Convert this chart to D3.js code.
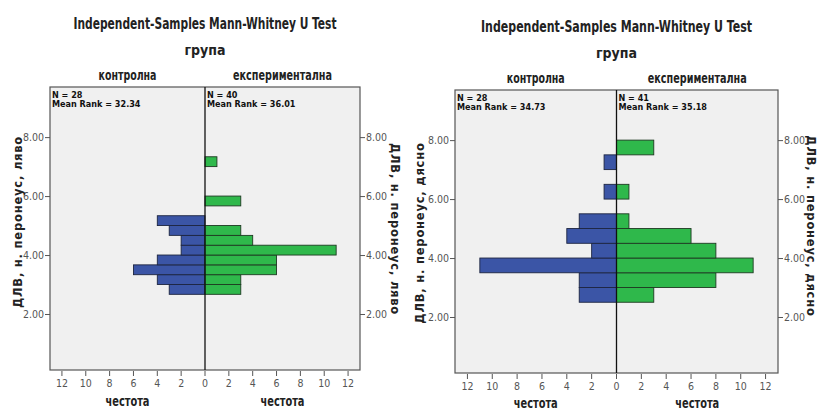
<!DOCTYPE html>
<html>
<head>
<meta charset="utf-8">
<script src="https://cdn.jsdelivr.net/npm/d3@7"></script>
<style>
  html, body { margin: 0; padding: 0; background: #fff; }
  svg { display: block; }
  .cond { font-family: "Liberation Sans Narrow", "Arial Narrow", "DejaVu Sans Condensed", "Roboto Condensed", sans-serif; }
</style>
</head>
<body>
<svg id="chart" width="818" height="410"></svg>
<script>
// ---- data ----
const groups = ["контролна", "експериментална"];
const valueTicks = [2, 4, 6, 8];
const freqTicks = [12, 10, 8, 6, 4, 2, 0, 2, 4, 6, 8, 10, 12];

// left: ДЛВ, н. перонеус, ляво (bins of 1/3)
const leftBinLower = [2.667, 3.000, 3.333, 3.667, 4.000, 4.333, 4.667, 5.000, 5.333, 5.667, 6.000, 6.333, 6.667, 7.000];
const leftBinWidth = 1 / 3;
const leftControl = [3, 4, 6, 4, 2, 2, 3, 4, 0, 0, 0, 0, 0, 0];
const leftExperimental = [3, 3, 6, 6, 11, 4, 3, 0, 0, 3, 0, 0, 0, 1];
const leftStats = ["N = 28", "Mean Rank = 32.34", "N = 40", "Mean Rank = 36.01"];

// right: ДЛВ, н. перонеус, дясно (bins of 0.5)
const rightBinLower = [2.5, 3.0, 3.5, 4.0, 4.5, 5.0, 5.5, 6.0, 6.5, 7.0, 7.5];
const rightBinWidth = 0.5;
const rightControl = [3, 3, 11, 2, 4, 3, 0, 1, 0, 1, 0];
const rightExperimental = [3, 8, 11, 8, 6, 1, 0, 1, 0, 0, 3];
const rightStats = ["N = 28", "Mean Rank = 34.73", "N = 41", "Mean Rank = 35.18"];

const svg = d3.select("#chart");
const BLUE = "#3b55a6";
const GREEN = "#2fb84b";

function panel(o) {
  const g = svg.append("g");
  const mid = (o.left + o.right) / 2;
  const y = d3.scaleLinear().domain([0.1, 9.7]).range([o.bottom, o.top]);
  const xL = d3.scaleLinear().domain([13, 0]).range([o.left, mid]);
  const xR = d3.scaleLinear().domain([0, 13]).range([mid, o.right]);

  // titles
  g.append("text").attr("x", mid).attr("y", o.top - 58).attr("text-anchor", "middle")
    .attr("class", "cond").attr("font-weight", "bold").attr("font-size", 15).attr("fill", "#222")
    .attr("textLength", o.titleLen).attr("lengthAdjust", "spacingAndGlyphs")
    .text("Independent-Samples Mann-Whitney U Test");
  g.append("text").attr("x", mid).attr("y", o.top - 32).attr("text-anchor", "middle")
    .attr("class", "cond").attr("font-weight", "bold").attr("font-size", 14).attr("fill", "#222")
    .text("група");
  g.append("text").attr("x", (o.left + mid) / 2).attr("y", o.top - 7).attr("text-anchor", "middle")
    .attr("class", "cond").attr("font-weight", "bold").attr("font-size", 14).attr("fill", "#222")
    .attr("textLength", 58).attr("lengthAdjust", "spacingAndGlyphs")
    .text(groups[0]);
  g.append("text").attr("x", (mid + o.right) / 2).attr("y", o.top - 7).attr("text-anchor", "middle")
    .attr("class", "cond").attr("font-weight", "bold").attr("font-size", 14).attr("fill", "#222")
    .attr("textLength", 99).attr("lengthAdjust", "spacingAndGlyphs")
    .text(groups[1]);

  // plot frame
  g.append("rect").attr("x", o.left).attr("y", o.top)
    .attr("width", o.right - o.left).attr("height", o.bottom - o.top)
    .attr("fill", "#f0f0f0").attr("stroke", "#555").attr("stroke-width", 1.2);

  // bars
  const bins = o.lower.map((v, i) => ({ lo: v, hi: v + o.width, c: o.control[i], e: o.exper[i] }));
  g.selectAll(".bc").data(bins.filter(d => d.c > 0)).join("rect")
    .attr("x", d => xL(d.c)).attr("y", d => y(d.hi))
    .attr("width", d => xL(0) - xL(d.c)).attr("height", d => y(d.lo) - y(d.hi))
    .attr("fill", BLUE).attr("stroke", "#1d2540").attr("stroke-width", 0.9);
  g.selectAll(".be").data(bins.filter(d => d.e > 0)).join("rect")
    .attr("x", xR(0)).attr("y", d => y(d.hi))
    .attr("width", d => xR(d.e) - xR(0)).attr("height", d => y(d.lo) - y(d.hi))
    .attr("fill", GREEN).attr("stroke", "#1e3a22").attr("stroke-width", 0.9);

  // zero line
  g.append("line").attr("x1", mid).attr("x2", mid).attr("y1", o.top).attr("y2", o.bottom)
    .attr("stroke", "#111").attr("stroke-width", 1.3);

  // stats text
  [[o.left + 2, 0], [mid + 2, 2]].forEach(([x, k]) => {
    g.append("text").attr("x", x).attr("y", o.top + 11).attr("class", "cond")
      .attr("font-weight", "bold").attr("font-size", 9).attr("fill", "#111").text(o.stats[k]);
    g.append("text").attr("x", x).attr("y", o.top + 20).attr("class", "cond")
      .attr("font-weight", "bold").attr("font-size", 9).attr("fill", "#111").text(o.stats[k + 1]);
  });

  // value axes, both sides
  const fmt = d3.format(".2f");
  const ay1 = g.append("g").attr("transform", `translate(${o.left},0)`)
    .call(d3.axisLeft(y).tickValues(valueTicks).tickFormat(fmt).tickSize(5).tickPadding(1));
  const ay2 = g.append("g").attr("transform", `translate(${o.right},0)`)
    .call(d3.axisRight(y).tickValues(valueTicks).tickFormat(fmt).tickSize(5).tickPadding(1));
  [ay1, ay2].forEach(a => {
    a.select(".domain").remove();
    a.selectAll("line").attr("stroke", "#555");
    a.selectAll("text").attr("class", "cond").attr("font-size", 10.5).attr("fill", "#555");
  });

  // frequency axis
  const fx = g.append("g").attr("transform", `translate(0,${o.bottom})`);
  freqTicks.forEach((t, i) => {
    const x = i < 6 ? xL(t) : xR(t);
    fx.append("line").attr("x1", x).attr("x2", x).attr("y1", 1).attr("y2", 6)
      .attr("stroke", "#555").attr("stroke-width", 1);
    fx.append("text").attr("x", x).attr("y", 17).attr("text-anchor", "middle")
      .attr("class", "cond").attr("font-size", 10.5).attr("fill", "#555").text(t);
  });
  [(o.left + mid) / 2, (mid + o.right) / 2].forEach(x => {
    g.append("text").attr("x", x).attr("y", o.freqY).attr("text-anchor", "middle")
      .attr("class", "cond").attr("font-weight", "bold").attr("font-size", 14).attr("fill", "#222")
      .attr("textLength", 44).attr("lengthAdjust", "spacingAndGlyphs")
      .text("честота");
  });

  // axis titles
  g.append("text").attr("transform", `translate(${o.left - o.padL},${o.cyL}) rotate(-90)`)
    .attr("text-anchor", "middle").attr("dominant-baseline", "central")
    .attr("font-family", "DejaVu Sans, sans-serif")
    .attr("font-weight", "bold").attr("font-size", 11.5).attr("letter-spacing", 0.8)
    .attr("fill", "#222").text(o.axisTitle);
  g.append("text").attr("transform", `translate(${o.right + o.padR},${o.cyR}) rotate(90)`)
    .attr("text-anchor", "middle").attr("dominant-baseline", "central")
    .attr("font-family", "DejaVu Sans, sans-serif")
    .attr("font-weight", "bold").attr("font-size", 11.5).attr("letter-spacing", 0.8)
    .attr("fill", "#222").text(o.axisTitle);
}

panel({
  left: 50, right: 360, top: 87, bottom: 370, titleLen: 263, freqY: 406,
  padL: 32, padR: 35, cyL: 222, cyR: 229,
  lower: leftBinLower, width: leftBinWidth, control: leftControl, exper: leftExperimental,
  stats: leftStats, axisTitle: "ДЛВ, н. перонеус, ляво"
});
panel({
  left: 455, right: 778, top: 90, bottom: 373, titleLen: 271, freqY: 408,
  padL: 35, padR: 33, cyL: 233, cyR: 226,
  lower: rightBinLower, width: rightBinWidth, control: rightControl, exper: rightExperimental,
  stats: rightStats, axisTitle: "ДЛВ, н. перонеус, дясно"
});
</script>
</body>
</html>
